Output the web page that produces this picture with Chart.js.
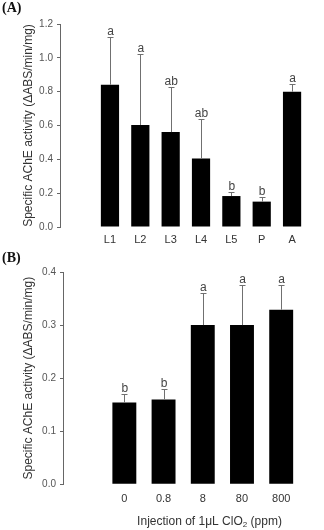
<!DOCTYPE html>
<html>
<head>
<meta charset="utf-8">
<script src="https://cdn.jsdelivr.net/npm/chart.js@4/dist/chart.umd.min.js"></script>
<style>
  html, body { margin: 0; padding: 0; background: #fff; }
  body { width: 324px; height: 530px; position: relative; overflow: hidden; }
  .panel { position: absolute; left: 0; width: 324px; }
  .tag { position: absolute; left: 2px; font: bold 14px "Liberation Serif", "Times New Roman", serif; color: #111; }
</style>
</head>
<body>
<script>
// ---- Panel A data ----
const stagesA = ["L1", "L2", "L3", "L4", "L5", "P", "A"];
const activityA = [0.841, 0.603, 0.561, 0.405, 0.183, 0.150, 0.800];
const errorA = [0.281, 0.419, 0.265, 0.233, 0.021, 0.029, 0.043];
const lettersA = ["a", "a", "ab", "ab", "b", "b", "a"];
const yTicksA = [0.0, 0.2, 0.4, 0.6, 0.8, 1.0, 1.2];

// ---- Panel B data ----
const dosesB = ["0", "0.8", "8", "80", "800"];
const activityB = [0.154, 0.160, 0.300, 0.300, 0.329];
const errorB = [0.016, 0.019, 0.060, 0.075, 0.046];
const lettersB = ["b", "b", "a", "a", "a"];
const yTicksB = [0.0, 0.1, 0.2, 0.3, 0.4];

const yTitle = "Specific AChE activity (\u0394ABS/min/mg)";
</script>

<div class="panel" style="top:0;height:250px;"><canvas id="cA" width="324" height="250"></canvas></div>
<div class="panel" style="top:250px;height:280px;"><canvas id="cB" width="324" height="280"></canvas></div>
<div class="tag" style="top:0px;">(A)</div>
<div class="tag" style="top:250px;">(B)</div>

<script>
const FONT = "'Liberation Sans', Arial, sans-serif";

const errorPlugin = {
  id: 'errorLetters',
  afterDatasetsDraw(chart, args, opts) {
    const ctx = chart.ctx;
    const xs = chart.scales.x, ys = chart.scales.y;
    ctx.save();
    opts.values.forEach((v, i) => {
      const x = xs.getPixelForValue(i + 1);
      const y0 = ys.getPixelForValue(v);
      const y1 = ys.getPixelForValue(v + opts.errors[i]);
      ctx.strokeStyle = '#707070';
      ctx.lineWidth = 1;
      ctx.beginPath();
      ctx.moveTo(Math.round(x) + 0.5, y0);
      ctx.lineTo(Math.round(x) + 0.5, Math.round(y1) + 0.5);
      ctx.moveTo(Math.round(x) - 2.5, Math.round(y1) + 0.5);
      ctx.lineTo(Math.round(x) + 3.5, Math.round(y1) + 0.5);
      ctx.stroke();
      ctx.fillStyle = '#444';
      ctx.font = '12px ' + FONT;
      ctx.textAlign = 'center';
      ctx.textBaseline = 'alphabetic';
      ctx.fillText(opts.letters[i], x + 0.5, y1 - 2);
    });
    ctx.restore();
  }
};

const xTitlePlugin = {
  id: 'xTitleSub',
  afterDraw(chart, args, opts) {
    if (!opts.display) return;
    const ctx = chart.ctx;
    const ca = chart.chartArea;
    ctx.save();
    ctx.fillStyle = '#333';
    const main = '12px ' + FONT, sub = '8px ' + FONT;
    const parts = [["Injection of 1\u03BCL ClO", main, 0], ["2", sub, 3], [" (ppm)", main, 0]];
    let w = 0;
    parts.forEach(p => { ctx.font = p[1]; w += ctx.measureText(p[0]).width; });
    let x = (ca.left + ca.right) / 2 + opts.shift - w / 2;
    ctx.textBaseline = 'middle';
    ctx.textAlign = 'left';
    parts.forEach(p => { ctx.font = p[1]; ctx.fillText(p[0], x, opts.y + p[2]); x += ctx.measureText(p[0]).width; });
    ctx.restore();
  }
};

function makeChart(id, cats, vals, errs, lets, yTicks, cfg) {
  return new Chart(document.getElementById(id), {
    type: 'bar',
    data: {
      datasets: [{
        data: vals.map((v, i) => ({ x: i + 1, y: v })),
        backgroundColor: '#000',
        borderWidth: 0,
        barPercentage: cfg.barPct,
        categoryPercentage: 1
      }]
    },
    options: {
      responsive: false,
      animation: false,
      events: [],
      layout: { padding: { top: cfg.top, right: 2, left: 0, bottom: 0 } },
      plugins: {
        legend: { display: false },
        tooltip: { enabled: false },
        errorLetters: { values: vals, errors: errs, letters: lets },
        xTitleSub: cfg.xTitle
      },
      scales: {
        x: {
          type: 'linear',
          min: cfg.xMin, max: cfg.xMax,
          afterBuildTicks: s => { s.ticks = cats.map((_, i) => ({ value: i + 1 })); },
          afterFit: s => { s.height = cfg.xHeight; },
          grid: { display: false, drawTicks: false },
          border: { display: false },
          ticks: {
            callback: v => cats[v - 1],
            font: { size: 11, family: FONT },
            color: '#333',
            padding: cfg.xPad,
            maxRotation: 0,
            autoSkip: false
          }
        },
        y: {
          min: yTicks[0], max: yTicks[yTicks.length - 1],
          afterBuildTicks: s => { s.ticks = yTicks.map(v => ({ value: v })); },
          afterFit: s => { s.width = cfg.yWidth; },
          grid: { display: true, drawOnChartArea: false, drawTicks: true, tickLength: 3, color: '#666' },
          border: { display: true, color: '#666', width: 1 },
          ticks: {
            callback: v => Number(v).toFixed(1),
            font: { size: 10, family: FONT },
            color: '#555',
            padding: 4
          },
          title: {
            display: true,
            text: yTitle,
            font: { size: 12, family: FONT },
            color: '#333',
            padding: { top: 21, bottom: 0 }
          }
        }
      }
    },
    plugins: [errorPlugin, xTitlePlugin]
  });
}

makeChart('cA', stagesA, activityA, errorA, lettersA, yTicksA, {
  top: 24, xMin: -0.03, xMax: 7.37, xHeight: 23, xPad: 6, yWidth: 60, barPct: 0.6,
  xTitle: { display: false }
});
makeChart('cB', dosesB, activityB, errorB, lettersB, yTicksB, {
  top: 22, xMin: 0.096, xMax: 5.38, xHeight: 45.7, xPad: 8, yWidth: 63, barPct: 0.61,
  xTitle: { display: true, y: 271.7, shift: 17 }
});
</script>
</body>
</html>
